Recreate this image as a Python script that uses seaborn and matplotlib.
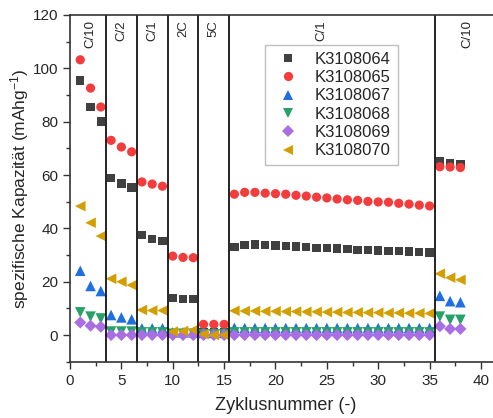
import numpy as np
import pandas as pd
import matplotlib
matplotlib.use("Agg")
import matplotlib.pyplot as plt
import seaborn as sns

# cycle numbers and capacities (mAh/g)
zyklus = list(range(1, 39))

k064 = [95.5, 85.5, 80.1, 58.9, 56.8, 55.3, 37.5, 36.1, 35.3, 14.0, 13.6, 13.4,
        1.0, 1.0, 1.0,
        33.1, 33.75, 33.9, 33.75, 33.6, 33.5, 33.25, 33.0, 32.75, 32.6, 32.4,
        32.2, 32.0, 31.9, 31.7, 31.6, 31.4, 31.3, 31.1, 31.0,
        65.1, 64.5, 64.1]
k065 = [103.2, 92.6, 85.5, 73.0, 70.5, 68.7, 57.4, 56.6, 55.8, 29.6, 29.1, 29.0,
        4.0, 4.0, 4.0,
        52.8, 53.5, 53.5, 53.2, 53.0, 52.8, 52.4, 52.1, 51.7, 51.4, 51.0,
        50.7, 50.5, 50.1, 49.9, 49.8, 49.4, 49.1, 48.7, 48.4,
        63.1, 63.0, 62.8]
k067 = [24.1, 18.4, 16.5, 7.5, 6.6, 5.9, 2.5, 2.5, 2.5, 1.0, 1.0, 1.0,
        0.8, 0.8, 0.8,
        2.7, 2.6, 2.6, 2.6, 2.6, 2.6, 2.6, 2.6, 2.6, 2.6, 2.6,
        2.6, 2.6, 2.6, 2.6, 2.6, 2.6, 2.6, 2.6, 2.6,
        14.7, 12.7, 12.3]
k068 = [8.5, 6.9, 6.2, 1.3, 1.3, 1.3, 1.0, 1.0, 1.0, 0.5, 0.5, 0.5,
        0.3, 0.3, 0.3,
        1.0, 1.0, 1.0, 1.0, 1.0, 1.0, 1.0, 1.0, 1.0, 1.0, 1.0,
        1.0, 1.0, 1.0, 1.0, 1.0, 1.0, 1.0, 1.0, 1.0,
        6.9, 5.7, 5.7]
k069 = [4.7, 3.5, 3.1, 0.0, 0.0, 0.0, 0.0, 0.0, 0.0, 0.0, 0.0, 0.0,
        0.0, 0.0, 0.0,
        0.0, 0.0, 0.0, 0.0, 0.0, 0.0, 0.0, 0.0, 0.0, 0.0, 0.0,
        0.0, 0.0, 0.0, 0.0, 0.0, 0.0, 0.0, 0.0, 0.0,
        3.3, 2.3, 2.3]
k070 = [48.3, 42.1, 37.1, 21.1, 20.0, 18.7, 9.4, 9.2, 9.2, 1.3, 1.5, 1.9,
        0.3, 0.0, 0.0,
        9.1, 9.0, 9.0, 8.9, 8.9, 8.8, 8.8, 8.7, 8.7, 8.6, 8.6,
        8.5, 8.5, 8.4, 8.4, 8.3, 8.3, 8.2, 8.2, 8.1,
        23.0, 21.5, 20.7]

proben = ["K3108064", "K3108065", "K3108067", "K3108068", "K3108069", "K3108070"]
farben = ["#404040", "#f43c3c", "#1f6fe0", "#26a268", "#a86ee2", "#d39e00"]
marker = ["s", "o", "^", "v", "D", "<"]
groessen = [36, 44, 58, 58, 38, 58]

# C-rate sections
grenzen = [3.5, 6.5, 9.5, 12.5, 15.5, 35.5]
raten = ["C/10", "C/2", "C/1", "2C", "5C", "C/1", "C/10"]
raten_x = [2, 5, 8, 11, 14, 24.5, 38.7]

df = pd.DataFrame({
    "Zyklus": zyklus * 6,
    "Kapazitaet": k064 + k065 + k067 + k068 + k069 + k070,
    "Probe": np.repeat(proben, len(zyklus)),
})

sns.set_style("ticks")
plt.rcParams["font.family"] = ["Liberation Sans", "DejaVu Sans"]
plt.rcParams["mathtext.default"] = "regular"

fig = plt.figure(figsize=(4.93, 4.18), dpi=100)
# axes run past the right border like in the original
ax = fig.add_axes([70 / 493, 56.3 / 418, 431.5 / 493, 346.7 / 418])

sns.scatterplot(data=df, x="Zyklus", y="Kapazitaet", hue="Probe", style="Probe",
                size="Probe", sizes=dict(zip(proben, groessen)),
                palette=farben, markers=marker, linewidth=0, ax=ax)

for g in grenzen:
    ax.axvline(g, color="black", lw=1.2, zorder=1)
for t, xt in zip(raten, raten_x):
    ax.text(xt, 118, t, rotation=90, ha="center", va="top", fontsize=9.5)

ax.set_xlim(0, 42)
ax.set_ylim(-10, 120)
ax.set_xticks(range(0, 45, 5))
ax.set_xticks(np.arange(2.5, 42, 5), minor=True)
ax.set_yticks(range(0, 121, 20))
ax.set_yticks(range(-10, 121, 20), minor=True)
ax.tick_params(which="major", length=5, width=1, labelsize=11, color="#333333")
ax.tick_params(which="minor", length=3, width=1, color="#333333")
for s in ["left", "bottom", "top"]:
    ax.spines[s].set_linewidth(1.2)
    ax.spines[s].set_color("#333333")
ax.spines["right"].set_visible(False)

ax.set_xlabel("Zyklusnummer (-)", fontsize=13, labelpad=7)
ax.set_ylabel("spezifische Kapazität (mAhg$^{-1}$)", fontsize=12.5, labelpad=1)

leg = ax.legend(loc="upper left", bbox_to_anchor=(0.452, 0.913), borderaxespad=0,
                fontsize=12, frameon=True, fancybox=False, edgecolor="#b0b0b0",
                handletextpad=0.6, labelspacing=0.2, borderpad=0.4)
leg.get_frame().set_linewidth(1)

fig.savefig("out.png", dpi=100)
